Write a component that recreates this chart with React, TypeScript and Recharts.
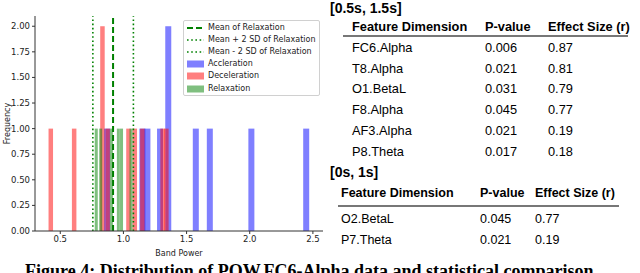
import React from 'react';
import { ComposedChart, Bar, XAxis, YAxis, ReferenceLine, Label } from 'recharts';

// ---- data ----
const accelX = [0.87, 1.15, 1.19, 1.29, 1.355, 1.573, 1.684, 2.013, 2.447];
const accelN = [1, 1, 1, 1, 2, 1, 1, 1, 1];
const decelX = [0.425, 0.61, 0.834, 0.875, 1.04, 1.09, 1.15, 1.31, 1.34];
const decelN = [1, 1, 2, 1, 1, 1, 1, 1, 1];
const relaxX = [0.785, 0.82, 0.905, 0.96, 0.985, 1.06];
const relaxN = [1, 1, 1, 1, 1, 1];

const relaxMean = 0.918;
const relaxPlus2SD = 1.079;
const relaxMinus2SD = 0.758;

const xTicks = [0.5, 1.0, 1.5, 2.0, 2.5];
const yTicks = [0, 0.25, 0.5, 0.75, 1.0, 1.25, 1.5, 1.75, 2.0];
const xDomain = [0.3, 2.58];
const yDomain = [0, 2.1];

const table1Rows = [
  ['FC6.Alpha', '0.006', '0.87'],
  ['T8.Alpha', '0.021', '0.81'],
  ['O1.BetaL', '0.031', '0.79'],
  ['F8.Alpha', '0.045', '0.77'],
  ['AF3.Alpha', '0.021', '0.19'],
  ['P8.Theta', '0.017', '0.18'],
];
const table2Rows = [
  ['O2.BetaL', '0.045', '0.77'],
  ['P7.Theta', '0.021', '0.19'],
];
const tableHeader = ['Feature Dimension', 'P-value', 'Effect Size (r)'];

// build chart table
const rowMap = new Map<number, any>();
const put = (xs: number[], ns: number[], key: string) => {
  xs.forEach((x, i) => {
    const r = rowMap.get(x) || { x };
    r[key] = ns[i];
    rowMap.set(x, r);
  });
};
put(accelX, accelN, 'accel');
put(decelX, decelN, 'decel');
put(relaxX, relaxN, 'relax');
const chartData = Array.from(rowMap.values()).sort((a, b) => a.x - b.x);

const mplFont = 'DejaVu Sans, sans-serif';
const tblFont = '"Liberation Sans", Arial, sans-serif';
const spine = '#333';

// histogram bar drawn at the scale position given by Recharts, with a fixed pixel width
const binShape = (w: number, color: string) => (props: any) => {
  const { x, y, width, height } = props;
  if (!height || !isFinite(height) || height <= 0) return <g />;
  const cx = x + (width || 0) / 2;
  return <rect x={cx - w / 2} y={y} width={w} height={height} fill={color} fillOpacity={0.5} />;
};

function LegendBox() {
  const rows = [
    { label: 'Mean of Relaxation', kind: 'dash' },
    { label: 'Mean + 2 SD of Relaxation', kind: 'dot' },
    { label: 'Mean - 2 SD of Relaxation', kind: 'dot' },
    { label: 'Accleration', kind: 'patch', color: 'blue' },
    { label: 'Deceleration', kind: 'patch', color: 'red' },
    { label: 'Relaxation', kind: 'patch', color: 'green' },
  ];
  return (
    <div
      style={{
        position: 'absolute', left: 183, top: 20, width: 137, height: 76,
        border: '1px solid #d0d0d0', borderRadius: 2, boxSizing: 'border-box',
        background: 'rgba(255,255,255,0.8)', fontFamily: mplFont, fontSize: 8, color: '#222',
      }}
    >
      {rows.map((r, i) => (
        <div key={i} style={{ position: 'absolute', left: 0, top: 0.5 + i * 12.2, height: 12, width: '100%' }}>
          <svg style={{ position: 'absolute', left: 2, top: 0 }} width={19} height={12}>
            {r.kind === 'dash' && (
              <line x1={1} x2={18} y1={6} y2={6} stroke="green" strokeWidth={2} strokeDasharray="6 3" />
            )}
            {r.kind === 'dot' && (
              <line x1={1} x2={18} y1={6} y2={6} stroke="green" strokeWidth={1.6} strokeDasharray="1.6 2.6" />
            )}
            {r.kind === 'patch' && (
              <rect x={1} y={2.5} width={17} height={7} fill={r.color} fillOpacity={0.5} />
            )}
          </svg>
          <span style={{ position: 'absolute', left: 24, top: 0, lineHeight: '12px', whiteSpace: 'nowrap' }}>
            {r.label}
          </span>
        </div>
      ))}
    </div>
  );
}

function T({ x, cy, size, bold, children }: any) {
  const lh = Math.round(size * 1.2);
  return (
    <div
      style={{
        position: 'absolute', left: x, top: cy - lh / 2, lineHeight: lh + 'px', fontSize: size,
        fontWeight: bold ? 'bold' : 'normal', fontFamily: tblFont, whiteSpace: 'nowrap', color: '#000',
      }}
    >
      {children}
    </div>
  );
}

function Tables() {
  const c1 = [352, 485, 548];
  const c2 = [341, 480, 535];
  const rows1 = [47, 68, 88, 109, 130, 151];
  const rows2 = [219, 240];
  return (
    <>
      <T x={330} cy={8} size={14} bold>[0.5s, 1.5s]</T>
      {tableHeader.map((h, i) => (
        <T key={'h1' + i} x={c1[i]} cy={26} size={12.8} bold>{h}</T>
      ))}
      <div style={{ position: 'absolute', left: 343, top: 35, width: 285, height: 1.5, background: '#777' }} />
      {table1Rows.map((r, ri) =>
        r.map((c, ci) => (
          <T key={'r1' + ri + ci} x={c1[ci]} cy={rows1[ri]} size={12.8}>{c}</T>
        ))
      )}
      <T x={330} cy={172} size={14} bold>[0s, 1s]</T>
      {tableHeader.map((h, i) => (
        <T key={'h2' + i} x={c2[i]} cy={193} size={12.5} bold>{h}</T>
      ))}
      <div style={{ position: 'absolute', left: 338, top: 205, width: 281, height: 1.5, background: '#777' }} />
      {table2Rows.map((r, ri) =>
        r.map((c, ci) => (
          <T key={'r2' + ri + ci} x={c2[ci]} cy={rows2[ri]} size={12.5}>{c}</T>
        ))
      )}
    </>
  );
}

export default function App() {
  return (
    <div style={{ position: 'absolute', left: 0, top: 0, width: 640, height: 273, overflow: 'hidden', background: '#fff' }}>
      <ComposedChart
        width={330}
        height={273}
        data={chartData}
        margin={{ top: 16, right: 7, left: 0, bottom: 0 }}
        style={{ fontFamily: mplFont }}
      >
        <XAxis
          xAxisId="a"
          dataKey="x"
          type="number"
          domain={xDomain}
          allowDataOverflow
          ticks={xTicks}
          tickFormatter={(v: number) => v.toFixed(1)}
          height={42}
          tickSize={3}
          tickMargin={2}
          stroke={spine}
          tick={{ fontSize: 8.5, fill: '#222' }}
        >
          <Label value="Band Power" position="center" dy={1} style={{ fontSize: 8, fill: '#222' }} />
        </XAxis>
        <XAxis xAxisId="b" dataKey="x" type="number" domain={xDomain} allowDataOverflow hide />
        <XAxis xAxisId="c" dataKey="x" type="number" domain={xDomain} allowDataOverflow hide />
        <XAxis
          xAxisId="top"
          orientation="top"
          dataKey="x"
          type="number"
          domain={xDomain}
          allowDataOverflow
          height={0}
          tick={false}
          tickLine={false}
          stroke={spine}
        >
          <Label value="Distribution of EEG Calibration Data (POW.FC6.Alpha)" position="top" offset={5} style={{ fontSize: 10.2, fill: '#222' }} />
        </XAxis>
        <YAxis
          type="number"
          domain={yDomain}
          ticks={yTicks}
          tickFormatter={(v: number) => v.toFixed(2)}
          width={35}
          tickSize={3}
          tickMargin={2}
          stroke={spine}
          tick={{ fontSize: 8.5, fill: '#222' }}
        >
          <Label value="Frequency" angle={-90} position="insideLeft" offset={7} style={{ fontSize: 8, fill: '#222', textAnchor: 'middle' }} />
        </YAxis>
        <YAxis yAxisId="r" orientation="right" type="number" domain={yDomain} width={0} tick={false} tickLine={false} stroke={spine} />

        <Bar xAxisId="a" dataKey="accel" fill="blue" fillOpacity={0.5} shape={binShape(6, 'blue')} isAnimationActive={false} />
        <Bar xAxisId="b" dataKey="decel" fill="red" fillOpacity={0.5} shape={binShape(4.5, 'red')} isAnimationActive={false} />
        <Bar xAxisId="c" dataKey="relax" fill="green" fillOpacity={0.5} shape={binShape(3, 'green')} isAnimationActive={false} />

        <ReferenceLine xAxisId="a" x={relaxMean} stroke="green" strokeWidth={2} strokeDasharray="6 3" />
        <ReferenceLine xAxisId="a" x={relaxPlus2SD} stroke="green" strokeWidth={1.6} strokeDasharray="1.6 2.6" />
        <ReferenceLine xAxisId="a" x={relaxMinus2SD} stroke="green" strokeWidth={1.6} strokeDasharray="1.6 2.6" />
      </ComposedChart>
      <LegendBox />
      <Tables />
      <div
        style={{
          position: 'absolute', left: 25, top: 262, fontFamily: '"Liberation Serif", "Times New Roman", serif',
          fontWeight: 'bold', fontSize: 18, lineHeight: '18px', whiteSpace: 'nowrap', color: '#000',
        }}
      >
        Figure 4: Distribution of POW.FC6-Alpha data and statistical comparison
      </div>
    </div>
  );
}
